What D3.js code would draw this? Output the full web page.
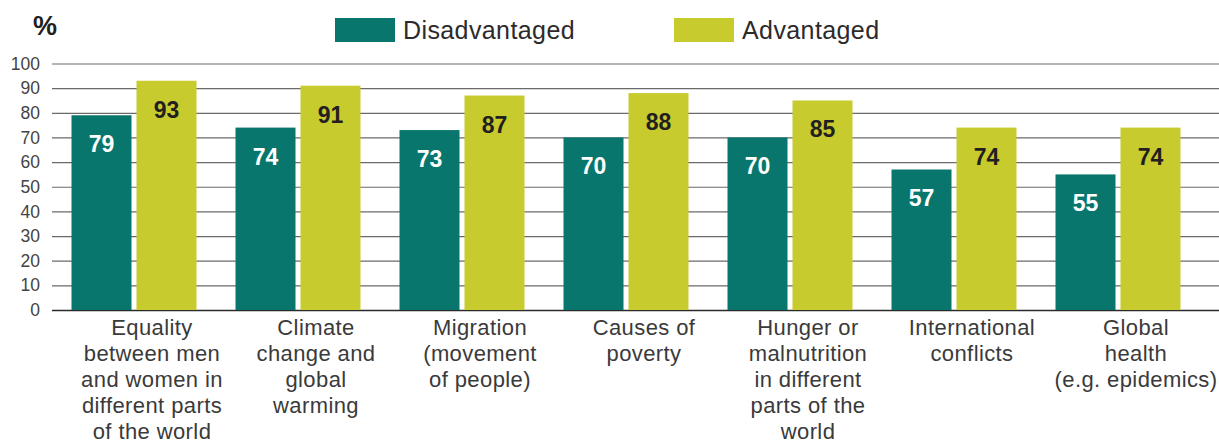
<!DOCTYPE html>
<html lang="en">
<head>
  <meta charset="UTF-8">
  <title>Topics by student background</title>
  <script src="https://d3js.org/d3.v7.min.js"></script>
  <style>
    body { margin: 0; background: #fff; font-family: 'Liberation Sans', Arial, sans-serif; }
    svg { display: block; }
  </style>
</head>
<body>
  <svg id="chart" width="1219" height="443"></svg>
  <script>
    // topics (already broken into lines the way the original wraps them)
    const categories = [
      ["Equality", "between men", "and women in", "different parts", "of the world"],
      ["Climate", "change and", "global", "warming"],
      ["Migration", "(movement", "of people)"],
      ["Causes of", "poverty"],
      ["Hunger or", "malnutrition", "in different", "parts of the", "world"],
      ["International", "conflicts"],
      ["Global", "health", "(e.g. epidemics)"]
    ];
    const disadvantaged = [79, 74, 73, 70, 70, 57, 55];
    const advantaged = [93, 91, 87, 88, 85, 74, 74];
    const seriesNames = ["Disadvantaged", "Advantaged"];
    const yTicks = [0, 10, 20, 30, 40, 50, 60, 70, 80, 90, 100];

    const colors = ["#08766d", "#c7cb2d"];
    const labelColors = ["#ffffff", "#231f20"];

    const svg = d3.select("#chart");
    const plotLeft = 52, plotRight = 1200, plotTop = 63.5, plotBottom = 310;

    const x = d3.scaleBand()
      .domain(d3.range(categories.length))
      .range([plotLeft, plotRight]);

    const barW = 60, gap = 5;
    const xs = d3.scaleBand()
      .domain(seriesNames)
      .range([(x.bandwidth() - 2 * barW - gap) / 2, (x.bandwidth() + 2 * barW + gap) / 2])
      .paddingInner(gap / (barW + gap));

    const y = d3.scaleLinear().domain([0, 100]).range([plotBottom, plotTop]);

    // gridlines + tick labels
    const yAxis = svg.append("g")
      .attr("transform", `translate(${plotLeft},0)`)
      .call(d3.axisLeft(y).tickValues(yTicks).tickSize(-(1219 - plotLeft)).tickPadding(12));
    yAxis.select(".domain").remove();
    yAxis.selectAll(".tick line")
      .attr("stroke", d => d === 0 ? "#2b2b2b" : "#6a6a6a")
      .attr("stroke-width", d => d === 0 ? 1.6 : 1.2);
    yAxis.selectAll(".tick text")
      .attr("fill", "#444")
      .style("font-size", "17.5px")
      .style("font-family", "'Liberation Sans', Arial, sans-serif");

    svg.append("text")
      .attr("x", 33).attr("y", 35)
      .attr("fill", "#231f20")
      .style("font-size", "27px")
      .style("font-weight", "bold")
      .text("%");

    // bars
    const rows = categories.map((c, i) => ({ i, values: [disadvantaged[i], advantaged[i]] }));
    const groups = svg.append("g").selectAll("g")
      .data(rows)
      .join("g")
      .attr("transform", d => `translate(${x(d.i)},0)`);

    groups.selectAll("rect")
      .data(d => d.values.map((v, k) => ({ v, k })))
      .join("rect")
      .attr("x", d => xs(seriesNames[d.k]))
      .attr("width", xs.bandwidth())
      .attr("y", d => y(d.v))
      .attr("height", d => y(0) - y(d.v))
      .attr("fill", d => colors[d.k]);

    groups.selectAll("text.val")
      .data(d => d.values.map((v, k) => ({ v, k })))
      .join("text")
      .attr("class", "val")
      .attr("x", d => xs(seriesNames[d.k]) + xs.bandwidth() / 2)
      .attr("y", d => y(d.v) + 37)
      .attr("text-anchor", "middle")
      .attr("fill", d => labelColors[d.k])
      .style("font-size", "23px")
      .style("font-weight", "bold")
      .text(d => d.v);

    // category labels
    const cat = svg.append("g").selectAll("text")
      .data(categories)
      .join("text")
      .attr("x", (d, i) => x(i) + x.bandwidth() / 2 + 18)
      .attr("y", 335)
      .attr("text-anchor", "middle")
      .attr("fill", "#3a3a3a")
      .style("font-size", "22px")
      .style("letter-spacing", "0.4px");
    cat.selectAll("tspan")
      .data(d => d)
      .join("tspan")
      .attr("x", function () { return d3.select(this.parentNode).attr("x"); })
      .attr("dy", (d, j) => j === 0 ? 0 : 26)
      .text(d => d);

    // legend
    const legX = [335, 674];
    const leg = svg.append("g").selectAll("g")
      .data(seriesNames)
      .join("g")
      .attr("transform", (d, i) => `translate(${legX[i]},18)`);
    leg.append("rect")
      .attr("width", 60).attr("height", 24)
      .attr("fill", (d, i) => colors[i]);
    leg.append("text")
      .attr("x", 68).attr("y", 20.5)
      .attr("fill", "#2d2a2b")
      .style("font-size", "25px")
      .style("letter-spacing", "0.4px")
      .text(d => d);
  </script>
</body>
</html>
